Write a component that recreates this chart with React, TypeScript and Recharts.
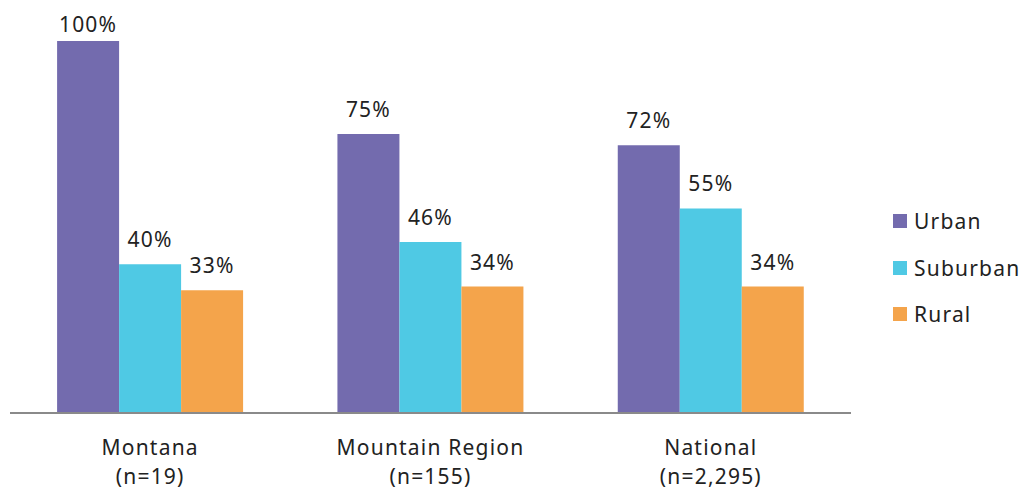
import { BarChart, Bar, XAxis, YAxis, Legend, LabelList } from "recharts"

const regions = ["Montana", "Mountain Region", "National"]
const sampleSizes = ["(n=19)", "(n=155)", "(n=2,295)"]
const urban = [100, 75, 72]
const suburban = [40, 46, 55]
const rural = [33, 34, 34]

const COLORS = { urban: "#736BAE", suburban: "#4FC9E4", rural: "#F4A44B" }
const FONT = "'Noto Sans', 'Open Sans', sans-serif"
const FS = 21
const LS = 1.2

const data = regions.map((r, i) => ({
  region: r,
  n: sampleSizes[i],
  urban: urban[i],
  suburban: suburban[i],
  rural: rural[i],
}))

const RegionTick = ({ x, y, payload, index }: any) => (
  <g transform={`translate(${x},${y})`}>
    <text textAnchor="middle" fill="#222" fontSize={FS} fontFamily={FONT} letterSpacing={LS}>
      <tspan x={0} dy={34}>{payload.value}</tspan>
      <tspan x={0} dy={29}>{sampleSizes[index]}</tspan>
    </text>
  </g>
)

// value label above each bar; kept inside the top edge for the tallest bar
const ValueLabel = ({ x, y, width, value }: any) => {
  const baseline = Math.max(y - 17, 32)
  return (
    <text
      x={x + width / 2}
      y={baseline}
      textAnchor="middle"
      fill="#222"
      fontSize={FS}
      fontFamily={FONT}
      letterSpacing={LS}
    >
      {`${value}%`}
    </text>
  )
}

const LegendBox = () => {
  const items = [
    { label: "Urban", color: COLORS.urban },
    { label: "Suburban", color: COLORS.suburban },
    { label: "Rural", color: COLORS.rural },
  ]
  return (
    <div style={{ fontFamily: FONT, fontSize: FS, color: "#222", letterSpacing: LS }}>
      {items.map((it) => (
        <div key={it.label} style={{ display: "flex", alignItems: "center", height: 46.5 }}>
          <span style={{ display: "inline-block", width: 14, height: 14, background: it.color, marginRight: 7 }} />
          <span>{it.label}</span>
        </div>
      ))}
    </div>
  )
}

export default function App() {
  return (
    <div style={{ position: "absolute", left: 0, top: 0, background: "#fff" }}>
      <BarChart
        width={1027}
        height={490}
        data={data}
        margin={{ top: 41, right: 176, bottom: 0, left: 10 }}
        barCategoryGap="16.8%"
        barGap={0}
      >
        <XAxis
          dataKey="region"
          axisLine={{ stroke: "#8a8a8a", strokeWidth: 2 }}
          tickLine={false}
          tick={<RegionTick />}
          height={77}
          interval={0}
        />
        <YAxis hide domain={[0, 100]} />
        <Legend
          layout="horizontal"
          verticalAlign="middle"
          align="center"
          content={<LegendBox />}
          wrapperStyle={{ position: "absolute", left: 893, top: 198, width: 134 }}
        />
        {(["urban", "suburban", "rural"] as const).map((k) => (
          <Bar key={k} dataKey={k} fill={COLORS[k]} isAnimationActive={false}>
            <LabelList dataKey={k} content={<ValueLabel />} />
          </Bar>
        ))}
      </BarChart>
    </div>
  )
}
